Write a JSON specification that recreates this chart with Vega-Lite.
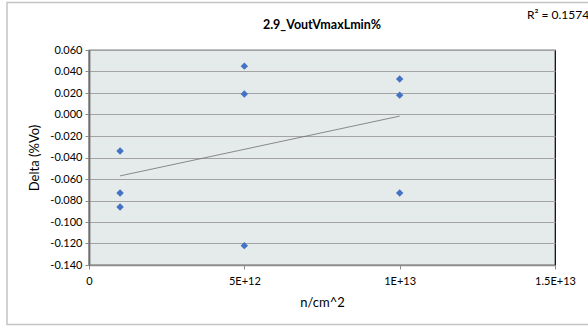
{
  "$schema": "https://vega.github.io/schema/vega-lite/v6.json",
  "autosize": "none",
  "width": 466,
  "height": 215,
  "padding": {"left": 89, "top": 50, "right": 33, "bottom": 63},
  "background": "white",
  "config": {
    "font": "Lato",
    "view": {"fill": "#e5eaea", "stroke": "#000000", "strokeWidth": 1.2}
  },
  "datasets": {
    "points": [
      {"fluence": 1e12, "delta": -0.034},
      {"fluence": 1e12, "delta": -0.073},
      {"fluence": 1e12, "delta": -0.086},
      {"fluence": 5e12, "delta": 0.045},
      {"fluence": 5e12, "delta": 0.019},
      {"fluence": 5e12, "delta": -0.122},
      {"fluence": 1e13, "delta": 0.033},
      {"fluence": 1e13, "delta": 0.018},
      {"fluence": 1e13, "delta": -0.073}
    ],
    "trend": [
      {"fluence": 1e12, "delta": -0.0571},
      {"fluence": 1e13, "delta": -0.0015}
    ]
  },
  "layer": [
    {
      "data": {"values": [{}]},
      "mark": {"type": "rect", "fill": null, "fillOpacity": 0, "stroke": "#c4c4c4", "strokeWidth": 1.5, "clip": false},
      "encoding": {
        "x": {"datum": -2.64e12, "type": "quantitative"},
        "x2": {"datum": 1.6127e13},
        "y": {"datum": 0.1042, "type": "quantitative"},
        "y2": {"datum": -0.1953}
      }
    },
    {
      "data": {"name": "points"},
      "mark": {"type": "point", "shape": "diamond", "filled": true, "color": "#4472c4", "size": 55, "opacity": 1},
      "encoding": {
        "x": {
          "field": "fluence", "type": "quantitative",
          "scale": {"domain": [0, 1.5e13], "nice": false, "zero": false},
          "axis": {
            "title": "n/cm^2", "titleFont": "Lato", "titleFontSize": 13, "titleFontWeight": "normal", "titleColor": "#000000", "titlePadding": 10,
            "values": [0, 5e12, 1e13, 1.5e13], "tickCount": 4,
            "labelExpr": "datum.value == 0 ? '0' : datum.value == 5e12 ? '5E+12' : datum.value == 1e13 ? '1E+13' : '1.5E+13'",
            "labelFont": "Lato", "labelFontSize": 11, "labelColor": "#000000", "labelPadding": 6, "labelOverlap": false, "labelFlush": false,
            "grid": false, "domainColor": "#8c8c8c", "domainWidth": 1.5,
            "ticks": true, "tickColor": "#8c8c8c", "tickSize": 4
          }
        },
        "y": {
          "field": "delta", "type": "quantitative",
          "scale": {"domain": [-0.14, 0.06], "nice": false, "zero": false},
          "axis": {
            "title": "Delta (%Vo)", "titleFont": "Lato", "titleFontSize": 13, "titleFontWeight": "normal", "titleColor": "#000000", "titlePadding": 8,
            "values": [-0.14, -0.12, -0.1, -0.08, -0.06, -0.04, -0.02, 0, 0.02, 0.04, 0.06], "tickCount": 11,
            "labelExpr": "replace(format(datum.value, '.3f'), '\u2212', '-')",
            "labelFont": "Lato", "labelFontSize": 11, "labelColor": "#000000", "labelPadding": 3, "labelOverlap": false, "labelFlush": false,
            "grid": true, "gridColor": "#a3a3a3", "gridWidth": 1.2,
            "domainColor": "#707070", "domainWidth": 1.8,
            "ticks": true, "tickColor": "#8c8c8c", "tickSize": 4
          }
        }
      }
    },
    {
      "data": {"name": "trend"},
      "mark": {"type": "line", "color": "#707070", "strokeWidth": 0.8},
      "encoding": {
        "x": {"field": "fluence", "type": "quantitative"},
        "y": {"field": "delta", "type": "quantitative"}
      }
    },
    {
      "data": {"values": [{}]},
      "mark": {"type": "text", "text": "R² = 0.1574", "font": "Lato", "fontSize": 12, "color": "#000000", "align": "center", "baseline": "middle", "clip": false},
      "encoding": {
        "x": {"datum": 1.5097e13, "type": "quantitative"},
        "y": {"datum": 0.0926, "type": "quantitative"}
      }
    },
    {
      "data": {"values": [{}]},
      "mark": {"type": "text", "text": "2.9_VoutVmaxLmin%", "font": "Lato", "fontSize": 12.5, "fontWeight": "bold", "color": "#000000", "align": "center", "baseline": "middle", "clip": false},
      "encoding": {
        "x": {"datum": 7.5e12, "type": "quantitative"},
        "y": {"datum": 0.0833, "type": "quantitative"}
      }
    }
  ]
}
